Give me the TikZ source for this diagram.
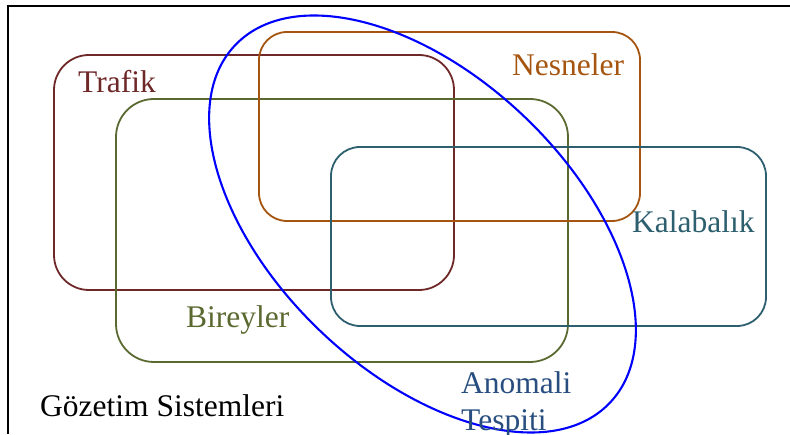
\documentclass[tikz,border=0pt]{standalone}
\usepackage{fontspec}
\setmainfont{Liberation Serif}
\usetikzlibrary{shapes.geometric}
\definecolor{trafikc}{RGB}{110,40,40}
\definecolor{bireyc}{RGB}{90,105,48}
\definecolor{nesnec}{RGB}{165,85,15}
\definecolor{kalabc}{RGB}{45,95,110}
\definecolor{anomc}{RGB}{40,78,128}
\begin{document}
\begin{tikzpicture}[x=1pt,y=1pt,
  setbox/.style={draw, line width=1.8pt, inner sep=0pt, outer sep=0pt},
  lbl/.style={inner sep=0pt, anchor=base west, font=\fontsize{31.5}{37}\selectfont}]
\useasboundingbox (0,0) rectangle (790,434);
% frame
\draw[line width=2pt] (8,0) -- (8,428) -- (791,428);
% sets
\node[setbox, color=trafikc, rounded corners=35pt, minimum width=400pt, minimum height=235pt] (trafik) at (254,261.5) {};
\node[setbox, color=bireyc, rounded corners=38pt, minimum width=452pt, minimum height=263pt] (birey) at (342,203.5) {};
\node[setbox, color=nesnec, rounded corners=28pt, minimum width=381pt, minimum height=189pt] (nesne) at (449.5,307.5) {};
\node[setbox, color=kalabc, rounded corners=29pt, minimum width=435pt, minimum height=179pt] (kalab) at (548.5,197.5) {};
\node[ellipse, draw=blue, line width=2.1pt, inner sep=0pt, outer sep=0pt, minimum width=518pt, minimum height=296pt, rotate=-43.7] (anom) at (422.5,210) {};
% labels
\node[lbl, text=trafikc] (ltrafik) at (78,341) {Trafik};
\node[lbl, text=nesnec] (lnesne) at (512,358) {Nesneler};
\node[lbl, text=bireyc] (lbirey) at (186,106) {Bireyler};
\node[lbl, text=kalabc] (lkalab) at (632,201) {Kalabalık};
\node[lbl, text=anomc] (lanom1) at (461,41) {Anomali};
\node[lbl, text=anomc] (lanom2) at (461,4) {Tespiti};
\node[lbl, text=black] (lgoz) at (40,18) {Gözetim Sistemleri};
\end{tikzpicture}
\end{document}
